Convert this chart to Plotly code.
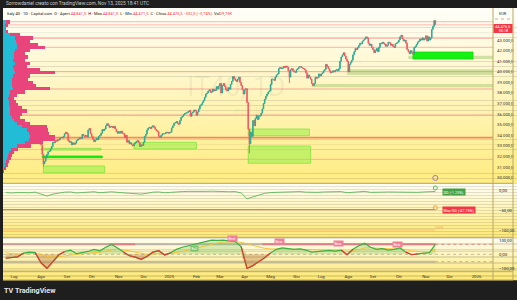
import pandas as pd
import plotly.graph_objects as go

W, H = 517, 300
def fx(x): return x / W
def fy(y): return 1 - y / H

# ---------------- price data (daily closes, Italy 40) ----------------
close = [
    # Jul 2024
    33600, 33450, 33700, 33800, 34050, 34200, 34150, 34350, 34300, 34500, 34550, 34700,
    34600, 34300, 34200, 33900, 33650, 33400, 33500, 33750, 33850, 33900, 33600,
    # Aug 2024
    33100, 32200, 31300, 31550, 31900, 32200, 32450, 32500, 32700, 32950, 33350, 33300,
    33500, 33450, 33600, 33550, 33750, 33800, 33750, 33900, 34150, 34300,
    # Sep 2024
    34150, 33500, 33350, 33400, 33100, 33300, 33150, 33250, 33500, 33600, 33650, 33800,
    33700, 34100, 33950, 33900, 34000, 33850, 34500, 34650, 34150,
    # Oct 2024
    33900, 33650, 33400, 33550, 33700, 33600, 33900, 34000, 34200, 34550, 34450, 34600,
    34900, 35100, 34950, 34750, 34800, 34850, 34700, 34850, 34600, 34350, 34200,
    # Nov 2024
    34350, 34200, 34400, 34200, 34150, 33800, 34000, 33350, 33500, 33200, 33300, 33100,
    33000, 33200, 33300, 33450, 33500, 33300, 32950, 33100, 33050,
    # Dec 2024
    33350, 33900, 34100, 34500, 34700, 34750, 34650, 34800, 34900, 34750, 34550, 34450,
    34350, 33900, 33800, 34000, 34150, 34150, 34150, 34250, 34300, 34200,
    # Jan 2025
    34250, 34300, 34700, 34900, 35150, 35200, 35300, 35100, 35050, 35400, 35700, 35800,
    35950, 36050, 36100, 36150, 36250, 36350, 35800, 36100, 36200, 36400, 36350,
    # Feb 2025
    35900, 36200, 36500, 36800, 36900, 37100, 37300, 37600, 37900, 38000, 38200, 38300,
    38050, 38100, 38350, 38200, 38250, 38600, 38400, 38650,
    # Mar 2025
    38900, 38000, 38700, 38900, 38600, 38300, 38200, 38500, 38350, 38800, 39100, 39550,
    39350, 39200, 39100, 39300, 39500, 39000, 38700, 38300, 37900,
    # Apr 2025
    38300, 38400, 37100, 34600, 33200, 34300, 33900, 35400, 34900, 35600, 35900, 35500,
    35800, 35850, 36100, 36500, 37000, 37400, 37700, 37900, 38100, 38200,
    # May 2025
    38800, 39300, 39300, 39200, 39500, 39700, 39800, 40300, 40400, 40300, 40350, 40500,
    40400, 40550, 40450, 40100, 39500, 40200, 40300, 40100, 40000, 39950,
    # Jun 2025
    40200, 40300, 40450, 40500, 40400, 40350, 40300, 40200, 39900, 39400, 39700, 39500,
    39300, 38900, 38700, 38900, 39500, 39400, 39450, 39800, 39600,
    # Jul 2025
    39800, 39900, 40100, 40200, 40700, 40500, 40300, 40100, 39900, 39950, 40100, 40000,
    40150, 40200, 40100, 40300, 41000, 41400, 41600, 41800, 41500, 41200, 41000,
    # Aug 2025
    40000, 40700, 40900, 41100, 41600, 41900, 42200, 42100, 42300, 42500, 42700, 42650,
    42900, 43000, 43100, 43300, 43200, 42700, 42500, 42600, 42300,
    # Sep 2025
    42100, 41800, 42000, 42200, 41900, 42300, 42700, 42650, 42800, 42700, 42600, 42400,
    42500, 42800, 42750, 42500, 42600, 42400, 42300, 42650, 42700, 42800,
    # Oct 2025
    43000, 43300, 43450, 43100, 42900, 43000, 42700, 42100, 41900, 41700, 42000, 41800,
    41700, 42300, 42400, 42600, 42800, 42900, 43100, 43000, 43200, 43000, 43100,
    # Nov 2025
    43400, 42900, 43300, 43000, 43200, 44000, 44300, 44808.5, 44476.5,
]
last_open = 44841.5
wick_low = {"2024-08-05": 31050, "2025-04-07": 32300, "2025-05-23": 38950, "2025-11-13": 44471.5}
wick_high = {"2025-11-12": 44900}

dates = pd.bdate_range(end="2025-11-13", periods=len(close))
X_START, X_END = "2024-06-17 16:00", "2026-01-21"
LAST = "2025-11-13"

# horizontal levels
level_prices = [44731, 44440, 43163, 42314, 40009, 38376, 35921, 31737]
poc_price = 33777

# zones: start, end, low, high, style
zones = [
    ("2024-08-05", "2024-10-16", 30472, 31105, "soft"),
    ("2024-08-02", "2024-10-14", 31888, 32049, "bright"),
    ("2024-08-01", "2024-10-11", 32616, 32776, "thin"),
    ("2024-11-20", "2025-02-03", 32710, 33343, "soft"),
    ("2025-04-04", "2025-06-17", 33966, 34599, "soft"),
    ("2025-04-04", "2025-06-18", 31360, 32993, "soft"),
    ("2025-07-31", X_END, 39698, 40236, "band"),
    ("2025-06-19", X_END, 38536, 38848, "band"),
    ("2025-10-13", X_END, 41209, 41520, "band"),
    ("2025-10-17", "2025-12-29", 41209, 41870, "bright"),
]

# volume profile (bins of 300 points, bottom to top)
vp_price = list(range(30600, 44701, 300))
vp_up = [0, 1, 2, 3, 4, 5, 6, 8, 14, 22, 26, 27, 26, 24, 19, 14, 11, 9, 7, 7, 7, 6, 6, 5,
         6, 7, 10, 9, 9, 9, 10, 12, 11, 10, 12, 10, 11, 11, 12, 14, 14, 13, 12, 7, 3, 2, 2, 3]
vp_dn = [1, 2, 3, 3, 4, 4, 5, 7, 14, 18, 26, 25, 20, 21, 25, 13, 11, 8, 12, 17, 12, 9, 7, 6,
         8, 15, 37, 24, 21, 16, 17, 40, 26, 14, 15, 12, 14, 11, 15, 28, 21, 14, 18, 10, 2, 1, 3, 4]

# ---------------- indicator data (weekly readings) ----------------
dd = [-4, -5, -4, -5, -4.5, -3, -8, -13, -8, -5, -3, -2.5, -5, -4, -3, -2, -4.5, -3, -2, -3.5,
      -5, -6, -7.5, -8, -6, -3, -2.5, -4.5, -3.5, -2, -1.5, -1, -1.5, -0.5, -1, -0.5, -1.5, -1, -2, -1.5,
      -5, -20, -15, -10, -6, -4, -3, -2, -2.5, -2, -1.5, -3, -4, -3.5, -2.5, -2, -3, -1.5, -4.5, -3,
      -1.5, -1, -3.5, -4, -3, -2.5, -3, -2, -3, -4.5, -3.5, -2.5, -2, -1.25]
max_dd = -47.75
osc = [-28, -25, -18, 8, 15, 12, -60, -99, -50, -5, 20, 30, 5, 10, 20, 35, 25, 50, 70, 45,
       15, -10, -20, -35, -15, 15, 25, -5, 10, 35, 50, 60, 70, 85, 95, 100, 98, 100, 95, 90,
       55, -100, -80, -55, -25, 10, 35, 45, 40, 35, 38, 30, 15, 20, 25, 28, 22, 30, -3, 35,
       60, 78, 50, 35, 40, 30, 35, 45, 15, -3, 3, 8, 12, 70]
sig = [10, 5, 2, 3, 5, 6, 0, -15, -20, -18, -12, -5, -2, 2, 6, 12, 15, 22, 32, 35,
       32, 25, 15, 5, 0, 2, 6, 5, 6, 12, 20, 30, 40, 50, 62, 72, 80, 86, 88, 88,
       85, 75, 62, 50, 42, 38, 36, 36, 36, 35, 35, 34, 30, 28, 27, 27, 26, 27, 20, 24,
       33, 45, 47, 43, 42, 38, 37, 39, 34, 24, 18, 17, 16, 30]
wk = pd.date_range(end=LAST, periods=len(osc), freq="7D")
osc_labels = [("2025-01-30", 40, "Bull"), ("2025-03-18", 112, "Bear"), ("2025-05-13", 87, "Bear"),
              ("2025-07-22", 72.8, "Bear"), ("2025-09-30", 70.7, "Bear")]
red_band_segments = [("2024-06-17", "2024-10-22", 0.25), ("2024-10-22", "2024-11-21", 0.6),
                     ("2025-04-22", LAST, 0.6)]

tick_dates = ["2024-07-01", "2024-08-01", "2024-09-02", "2024-10-01", "2024-11-01", "2024-12-02",
              "2025-01-01", "2025-02-03", "2025-03-03", "2025-04-01", "2025-05-01", "2025-06-02",
              "2025-07-01", "2025-08-01", "2025-09-01", "2025-10-01", "2025-11-03", "2025-12-01",
              "2026-01-01"]
tick_text = ["Lug", "Ago", "Set", "Ott", "Nov", "Dic", "2025", "Feb", "Mar", "Apr", "Mag", "Giu",
             "Lug", "Ago", "Set", "Ott", "Nov", "Dic", "2026"]
price_ticks = [30000, 31000, 32000, 33000, 34000, 35000, 36000, 37000, 38000, 39000, 40000,
               41000, 42000, 43000]

# ---------------- build candles ----------------
open_ = [close[0]] + close[:-1]
open_[-1] = last_open
high = [max(o, c) for o, c in zip(open_, close)]
low = [min(o, c) for o, c in zip(open_, close)]
for i, d in enumerate(dates):
    k = d.strftime("%Y-%m-%d")
    if k in wick_low:
        low[i] = min(low[i], wick_low[k])
    if k in wick_high:
        high[i] = max(high[i], wick_high[k])

FONT = "Roboto"
TXT = "#131722"
RED = "#f23645"
GREEN_C = "#22ab94"
RED_C = "#f7525f"

fig = go.Figure()

fig.add_trace(go.Candlestick(
    x=dates, open=open_, high=high, low=low, close=close,
    increasing=dict(line=dict(color=GREEN_C, width=0.9), fillcolor=GREEN_C),
    decreasing=dict(line=dict(color=RED_C, width=0.9), fillcolor=RED_C),
    whiskerwidth=0, xaxis="x", yaxis="y", hoverinfo="skip"))

# volume profile on overlay axis
fig.add_trace(go.Bar(y=vp_price, x=vp_up, orientation="h", width=300, xaxis="x4", yaxis="y",
                     marker=dict(color="#22bcd6", line=dict(width=0)), hoverinfo="skip"))
fig.add_trace(go.Bar(y=vp_price, x=vp_dn, orientation="h", width=300, xaxis="x4", yaxis="y",
                     marker=dict(color="#e9457c", line=dict(width=0)), hoverinfo="skip"))

# event marker
fig.add_trace(go.Scatter(x=[LAST], y=[29980], mode="markers", xaxis="x", yaxis="y",
                         marker=dict(symbol="circle-open", size=5, color="#a070d0", line=dict(width=1)),
                         hoverinfo="skip"))

# pane 2: drawdown
fig.add_trace(go.Scatter(x=[X_START, LAST], y=[-100, -100], mode="lines", xaxis="x2", yaxis="y2",
                         line=dict(color="rgba(255,190,110,0.55)", width=2), hoverinfo="skip"))
fig.add_trace(go.Scatter(x=[X_START, LAST], y=[max_dd, max_dd], mode="lines", xaxis="x2", yaxis="y2",
                         line=dict(color="#f5623a", width=1), hoverinfo="skip"))
fig.add_trace(go.Scatter(x=wk, y=dd, mode="lines", xaxis="x2", yaxis="y2",
                         line=dict(color="#5cb85c", width=0.9), hoverinfo="skip"))
fig.add_trace(go.Scatter(x=[LAST, LAST], y=[dd[-1] + 9, max_dd + 5], mode="markers", xaxis="x2", yaxis="y2",
                         marker=dict(symbol="circle-open", size=4, color=["#5cb85c", "#f5a03a"],
                                     line=dict(width=1)), hoverinfo="skip"))

# pane 3: oscillator
pos = [max(v, 0) for v in osc]
neg = [min(v, 0) for v in osc]
fig.add_trace(go.Scatter(x=wk, y=pos, mode="lines", fill="tozeroy", xaxis="x3", yaxis="y3",
                         line=dict(width=0), fillcolor="rgba(120,200,90,0.30)", hoverinfo="skip"))
fig.add_trace(go.Scatter(x=wk, y=neg, mode="lines", fill="tozeroy", xaxis="x3", yaxis="y3",
                         line=dict(width=0), fillcolor="rgba(190,120,60,0.38)", hoverinfo="skip"))
fig.add_trace(go.Scatter(x=wk, y=sig, mode="lines", xaxis="x3", yaxis="y3",
                         line=dict(color="#f2c12e", width=0.9), hoverinfo="skip"))
fig.add_trace(go.Scatter(x=wk, y=osc, mode="lines", xaxis="x3", yaxis="y3",
                         line=dict(color="#3cb043", width=1.2), hoverinfo="skip"))
n = len(osc)
red_osc = [v if (v < 0 or (i > 0 and osc[i - 1] < 0) or (i < n - 1 and osc[i + 1] < 0)) else None
           for i, v in enumerate(osc)]
fig.add_trace(go.Scatter(x=wk, y=red_osc, mode="lines", xaxis="x3", yaxis="y3",
                         line=dict(color="#e53935", width=1.2), hoverinfo="skip"))

# ---------------- shapes ----------------
shapes = []

def gradient(y0, y1, top, bot, nb=36):
    h = (y1 - y0) / nb
    for i in range(nb):
        t = (i + 0.5) / nb
        c = tuple(int(round(top[j] + (bot[j] - top[j]) * t)) for j in range(3))
        shapes.append(dict(type="rect", xref="paper", yref="paper", x0=fx(3), x1=1,
                           y0=fy(y0 + (i + 1) * h + 0.3), y1=fy(y0 + i * h),
                           fillcolor="rgb(%d,%d,%d)" % c, line=dict(width=0), layer="below"))

gradient(8, 183.3, (255, 254, 249), (255, 236, 128))
gradient(183.3, 237.3, (255, 254, 246), (255, 234, 118))
gradient(237.3, 280, (255, 253, 242), (255, 233, 112))

# levels
for p in level_prices:
    shapes.append(dict(type="line", xref="paper", yref="y", x0=fx(3), x1=fx(493), y0=p, y1=p,
                       line=dict(color="rgba(244,150,140,0.55)", width=1.3), layer="below"))
shapes.append(dict(type="line", xref="paper", yref="y", x0=fx(3), x1=fx(493), y0=poc_price, y1=poc_price,
                   line=dict(color="rgba(242,120,90,0.85)", width=1.8), layer="below"))

# zones
for s, e, lo, hi, st in zones:
    if st == "bright":
        fc, lc = "rgba(10,240,10,0.95)", "rgba(10,220,10,1)"
    elif st == "band":
        fc, lc = "rgba(140,190,90,0.40)", "rgba(140,190,90,0.0)"
    elif st == "thin":
        fc, lc = "rgba(150,240,80,0.35)", "rgba(110,225,60,0.9)"
    else:
        fc, lc = "rgba(150,240,70,0.55)", "rgba(110,225,50,0.8)"
    shapes.append(dict(type="rect", xref="x", yref="y", x0=s, x1=e, y0=lo, y1=hi,
                       fillcolor=fc, line=dict(color=lc, width=0.8), layer="below"))

# oscillator bands
for lo, hi in [(64, 78), (-59, -45)]:
    shapes.append(dict(type="rect", xref="x3", yref="y3", x0=X_START, x1=LAST, y0=lo, y1=hi,
                       fillcolor="rgba(150,150,150,0.55)", line=dict(width=0), layer="below"))
for s, e, a in red_band_segments:
    shapes.append(dict(type="rect", xref="x3", yref="y3", x0=s, x1=e, y0=64, y1=78,
                       fillcolor="rgba(240,90,110,%s)" % a, line=dict(width=0), layer="below"))
shapes.append(dict(type="line", xref="x3", yref="y3", x0=LAST, x1=X_END, y0=70.7, y1=70.7,
                   line=dict(color="rgba(240,80,90,0.8)", width=0.8, dash="dot")))
shapes.append(dict(type="line", xref="x3", yref="y3", x0=X_START, x1=X_END, y0=0, y1=0,
                   line=dict(color="rgba(120,120,120,0.6)", width=0.8, dash="dot"), layer="below"))
shapes.append(dict(type="line", xref="x3", yref="y3", x0=LAST, x1=X_END, y0=-52, y1=-52,
                   line=dict(color="rgba(120,120,120,0.6)", width=0.8, dash="dot")))

# pane borders
BORDER = "#b9a964"
for y in [183.3, 237.3, 271.7, 280]:
    shapes.append(dict(type="line", xref="paper", yref="paper", x0=fx(3), x1=fx(513), y0=fy(y), y1=fy(y),
                       line=dict(color=BORDER, width=1)))
for x in [493, 513]:
    shapes.append(dict(type="line", xref="paper", yref="paper", x0=fx(x), x1=fx(x), y0=fy(8), y1=fy(280),
                       line=dict(color=BORDER, width=1)))
# price label box
shapes.append(dict(type="rect", xref="paper", yref="paper", x0=fx(493.5), x1=fx(512.5), y0=fy(33), y1=fy(24),
                   fillcolor=RED, line=dict(width=0)))
shapes.append(dict(type="line", xref="paper", yref="paper", x0=fx(495), x1=fx(511), y0=fy(19), y1=fy(19),
                   line=dict(color="#888", width=0.6, dash="dot")))

# ---------------- annotations ----------------
ann = []
def txt(x, y, s, size, color=TXT, xa="center", bg=None, **kw):
    d = dict(x=fx(x), y=fy(y), xref="paper", yref="paper", text=s, showarrow=False,
             xanchor=xa, yanchor="middle", font=dict(family=FONT, size=size, color=color))
    if bg:
        d.update(bgcolor=bg, borderpad=0.6)
    d.update(kw)
    ann.append(d)

txt(4, 4, "Sorrowdaniel creato con TradingView.com, Nov 13, 2025 18:41 UTC", 4.8, "#c8cad0", xa="left")
r = lambda s: "<span style='color:%s'>%s</span>" % (RED, s)
legend = ("Italy 40 · 1D · Capital.com  O · Apert." + r("44.841,5") + "  H · Mas." + r("44.841,5") +
          "  L · Min." + r("44.471,5") + "  C · Chius." + r("44.476,5") + " " + r("−332,0 (−0,74%)") +
          "  Vol" + r("29,75K"))
txt(5, 13.5, legend, 4.0, xa="left")
txt(236, 87, "IT40, 1D", 27, "rgba(60,60,60,0.07)")
txt(248, 110.5, "Italy 40", 9, "rgba(60,60,60,0.07)")
txt(503, 14, "EUR", 4, "#333")
txt(503, 26.5, "44.476,5", 4, "white")
txt(503, 30.8, "05:18", 3.6, "white")
txt(30, 290, "<b>TV</b> <b>TradingView</b>", 7.2, "#e6e6e6")
txt(454, 191.8, "DD (-1.25%)", 3.8, "white", bg="#43a047")
txt(459, 209.6, "Max DD (-47.75%)", 3.8, "white", bg=RED)
txt(439, 227.5, "-100%", 3.4, "#f5a05a")
for d, v, s in osc_labels:
    ann.append(dict(x=d, y=v, xref="x3", yref="y3", text=s, showarrow=False,
                    font=dict(family=FONT, size=3.4, color="white"),
                    bgcolor="#7cc46c" if s == "Bull" else "#f07f97", borderpad=0.5))

for y, s in [(190.7, "0,00"), (210, "−50,00"), (230, "−100,00"),
             (240, "100,00"), (254.3, "0,00"), (268.3, "−100,00")]:
    txt(497, y, s, 4.3, xa="left")

# ---------------- layout ----------------
rb = [dict(bounds=["sat", "mon"])]
xcommon = dict(domain=[fx(3), fx(493)], rangebreaks=rb, showgrid=False, zeroline=False,
               showline=False, ticks="", fixedrange=True)

fig.update_layout(
    width=W, height=H, margin=dict(l=0, r=0, t=0, b=0),
    paper_bgcolor="#1e1e1e", plot_bgcolor="rgba(0,0,0,0)",
    showlegend=False, barmode="stack", bargap=0, hovermode=False,
    font=dict(family=FONT, color=TXT),
    xaxis=dict(**xcommon, range=[X_START, X_END], anchor="y", showticklabels=False,
               rangeslider=dict(visible=False)),
    xaxis2=dict(**xcommon, matches="x", anchor="y2", showticklabels=False),
    xaxis3=dict(**xcommon, matches="x", anchor="y3", showticklabels=True,
                tickvals=tick_dates, ticktext=tick_text,
                tickfont=dict(family=FONT, size=4.3, color="#333"), ticklabelstandoff=1),
    xaxis4=dict(domain=[fx(3), fx(493)], overlaying="x", anchor="y", range=[0, 490], visible=False),
    yaxis=dict(domain=[fy(183.3), fy(8)], range=[29471, 46025], side="right", anchor="x",
               tickvals=price_ticks, ticktext=["%s.000,0" % (p // 1000) for p in price_ticks],
               tickfont=dict(family=FONT, size=4.3, color="#333"), showgrid=False, zeroline=False,
               ticks="", ticklabelstandoff=3),
    yaxis2=dict(domain=[fy(237.3), fy(183.3)], range=[-118.7, 19.74], anchor="x2",
                showticklabels=False, showgrid=False, zeroline=False),
    yaxis3=dict(domain=[fy(271.7), fy(237.3)], range=[-123, 120.1], anchor="x3",
                showticklabels=False, showgrid=False, zeroline=False),
    shapes=shapes, annotations=ann,
)

fig.write_html("out.html", config=dict(displayModeBar=False, staticPlot=True))
